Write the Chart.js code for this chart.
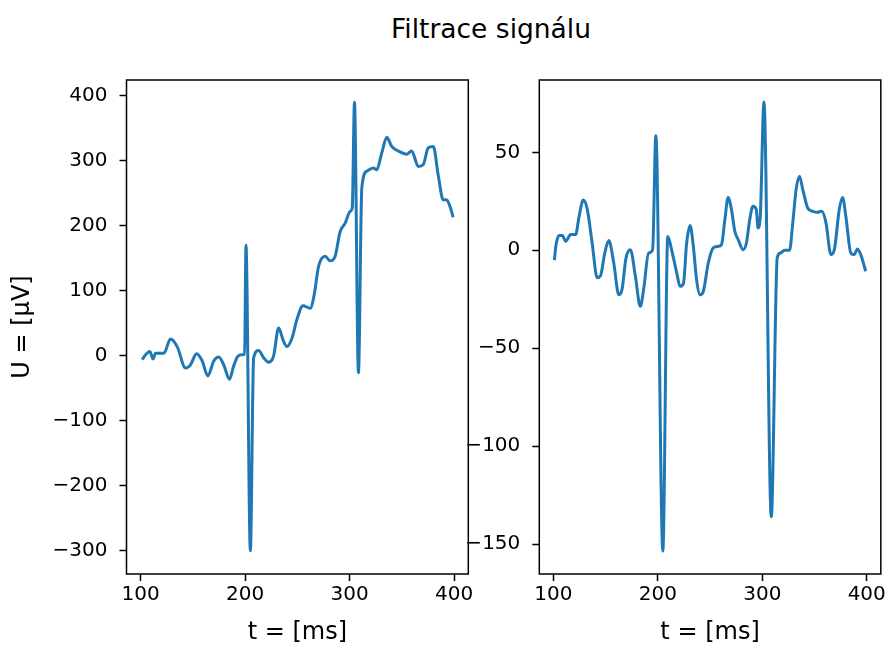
<!DOCTYPE html>
<html>
<head>
<meta charset="utf-8">
<script src="https://cdn.jsdelivr.net/npm/chart.js@4.4.1/dist/chart.umd.min.js"></script>
<style>
  body { margin: 0; background: #fff; width: 888px; height: 646px; overflow: hidden; position: relative; font-family: 'DejaVu Sans', sans-serif; }
  .box { position: absolute; top: 0; height: 646px; }
  #title { position: absolute; top: 16px; left: 491px; transform: translateX(-50%); font-size: 26.5px; line-height: 1; white-space: nowrap; color: #000; }
</style>
</head>
<body>
<div id="title">Filtrace signálu</div>
<div class="box" style="left:0; width:480px"><canvas id="leftChart"></canvas></div>
<div class="box" style="left:440px; width:448px"><canvas id="rightChart"></canvas></div>
<script>
// raw signal (left)
const rawT = [101.5, 104.8, 108.9, 111.8, 114.3, 122.3, 128.6, 135, 143, 147.7, 153.5, 158.9, 164.3, 170, 174.8,
    179.5, 185, 189, 192.9, 197, 199.5, 200.8, 205, 208.1, 212.9, 217.7, 222.5, 227.3, 232, 236.8, 240, 244.8,
    249.6, 255.3, 262.3, 266.1, 270.2, 276.6, 281.4, 286.1, 290.9, 295.7, 300.5, 302.5, 304.6, 308.4, 311.6,
    316.4, 322.7, 325.9, 330.7, 335.5, 340.2, 346.6, 354.5, 359.3, 365.7, 370.4, 375.2, 380, 384.7, 389.5,
    392.7, 395.9, 399];
const rawU = [-6, 1.5, 6.6, -5, 4, 4, 25.6, 14, -19, -14, 3, -8, -31, -8, -2,
    -14, -36, -16, -1, 1.5, 2, 170, -300, -3.6, 8, -3, -10, 0, 42.6, 22, 14.3, 27,
    56, 77, 73, 94, 137, 153, 146, 153, 191, 204, 222, 228, 390, -26, 258,
    284, 289, 286, 312, 336, 322, 315, 310, 315, 291, 294, 320, 322, 278, 240,
    240, 230, 213];

// filtered signal (right)
const filtT = [101, 102.3, 105.4, 108.6, 111.8, 116.6, 121.3, 124.5, 128.6, 132.4, 137.1, 141.9, 145.1, 149.2,
    153, 157.8, 162.6, 165.7, 169.5, 173.7, 178.5, 183.2, 186.4, 191.1, 195, 198.1, 204.8, 209.5, 213.3,
    218.1, 221.3, 224.5, 227.6, 230.9, 234, 237.1, 240.4, 243.5, 248.3, 253, 257.8, 261, 264.2, 267.3,
    270.5, 273.7, 276.9, 281.6, 284.8, 288, 291.1, 294.3, 295.9, 298.1, 301.6, 308.6, 314.3, 317.5, 321.3,
    326.1, 329.2, 332.4, 335.6, 338.8, 343.5, 348.3, 353, 356.9, 361, 365.7, 369, 373.7, 376.9, 380,
    384.8, 388, 391.1, 394.3, 399];
const filtU = [-5, 2, 7.5, 7.5, 4.6, 8, 8, 17, 25.6, 21, 3.7, -14, -13, -1.4,
    5, -6.5, -22.7, -20, -4, 0.3, -13.3, -28.6, -20, -1.5, 0.3, 58.6, -153.5, 7, 0,
    -11.6, -18.4, -17, 3.7, 12.6, 2, -15, -22.7, -21, -6.5, 1.2, 2, 3, 15.7, 27,
    20.8, 9.7, 5.5, 0.3, 3.7, 15.7, 22.5, 20.8, 11.4, 17.4, 75.7, -136, -3.9, -1.4, 0,
    0, 14, 31, 37.8, 31, 21.6, 19.9, 19.4, 19.9, 14, -2.2, 0.3, 20.8, 27, 17.4,
    -1.4, -2.2, 0.7, -2.2, -10.7];

const xTicks = [100, 200, 300, 400];
const rawTicks = [-300, -200, -100, 0, 100, 200, 300, 400];
const filtTicks = [-150, -100, -50, 0, 50];

Chart.defaults.font.family = "'DejaVu Sans'";
Chart.defaults.color = '#000';

// matplotlib-like box around the plot area
const framePlugin = {
    id: 'frame',
    afterDraw(chart) {
        const a = chart.chartArea;
        const ctx = chart.ctx;
        ctx.save();
        ctx.strokeStyle = '#000';
        ctx.lineWidth = 1.5;
        ctx.strokeRect(a.left, a.top, a.right - a.left, a.bottom - a.top);
        ctx.restore();
    }
};

const minus = v => v < 0 ? '\u2212' + (-v) : String(v);

function makeChart(id, t, u, yMin, yMax, yTicks, yWidth, rightPad, yTitle) {
    const ctx = document.getElementById(id).getContext('2d');
    return new Chart(ctx, {
        type: 'line',
        data: {
            datasets: [{
                data: t.map((x, i) => ({ x: x, y: u[i] })),
                borderColor: '#1f77b4',
                borderWidth: 3,
                pointRadius: 0,
                cubicInterpolationMode: 'monotone',
                borderJoinStyle: 'round',
                fill: false
            }]
        },
        options: {
            responsive: true,
            maintainAspectRatio: false,
            animation: false,
            layout: { padding: { top: 80, right: rightPad, bottom: 0, left: 0 } },
            plugins: { legend: { display: false }, tooltip: { enabled: false } },
            scales: {
                x: {
                    type: 'linear',
                    min: 86.5,
                    max: 413.5,
                    afterBuildTicks: s => { s.ticks = xTicks.map(v => ({ value: v })); },
                    afterFit: s => { s.height = 72; },
                    border: { display: false },
                    grid: { drawOnChartArea: false, tickLength: 7, tickWidth: 1.5, tickColor: '#000' },
                    ticks: { font: { size: 20 }, padding: 2, maxRotation: 0, autoSkip: false },
                    title: { display: true, text: 't = [ms]', font: { size: 24, lineHeight: 1.1 }, padding: 0 }
                },
                y: {
                    type: 'linear',
                    min: yMin,
                    max: yMax,
                    afterBuildTicks: s => { s.ticks = yTicks.map(v => ({ value: v })); },
                    afterFit: s => { s.width = yWidth; },
                    border: { display: false },
                    grid: { drawOnChartArea: false, tickLength: 7, tickWidth: 1.5, tickColor: '#000' },
                    ticks: { font: { size: 20 }, padding: 12, autoSkip: false, callback: minus },
                    title: { display: !!yTitle, text: yTitle || '', font: { size: 24, lineHeight: 1.1 }, padding: { top: 10, bottom: 0 } }
                }
            }
        },
        plugins: [framePlugin]
    });
}

makeChart('leftChart', rawT, rawU, -335.8, 424.2, rawTicks, 126.5, 11.7, 'U = [\u00b5V]');
makeChart('rightChart', filtT, filtU, -165.2, 86.9, filtTicks, 99.3, 4.7, null);
</script>
</body>
</html>
